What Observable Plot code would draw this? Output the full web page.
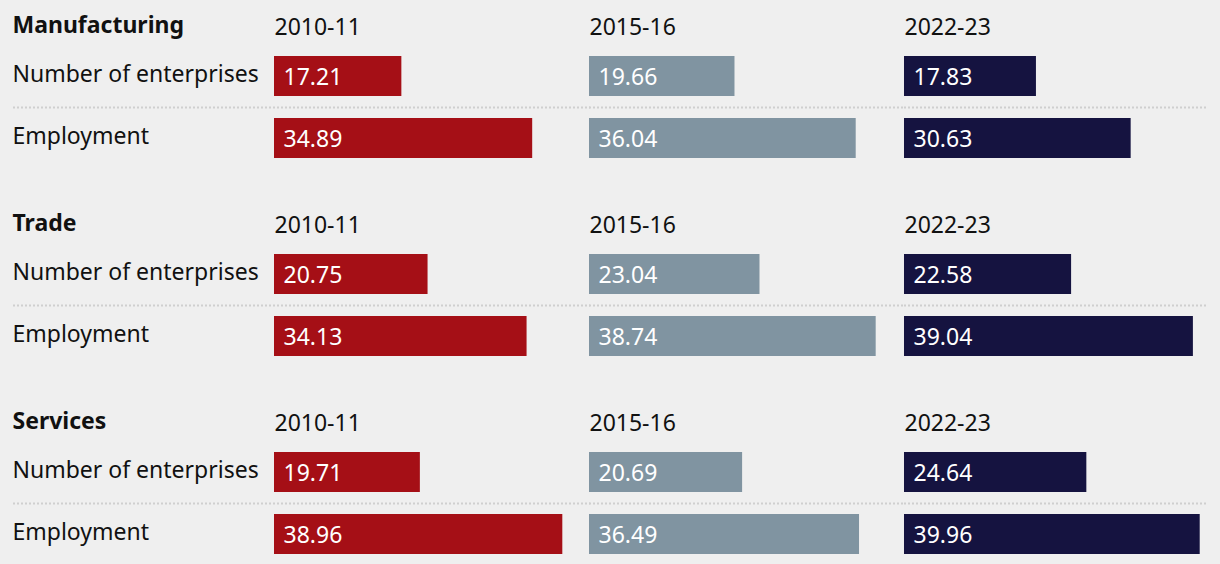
<!DOCTYPE html>
<html>
<head>
<meta charset="utf-8">
<script src="https://cdn.jsdelivr.net/npm/d3@7"></script>
<script src="https://cdn.jsdelivr.net/npm/@observablehq/plot@0.6"></script>
<style>
  html, body { margin: 0; padding: 0; background: #efefef; }
  #chart { width: 1220px; height: 564px; }
  svg { display: block; }
</style>
</head>
<body>
<div id="chart"></div>
<script>
const sectors = ["Manufacturing", "Trade", "Services"];
const periods = ["2010-11", "2015-16", "2022-23"];
const rows = ["Number of enterprises", "Employment"];
const enterprises = {
  Manufacturing: [17.21, 19.66, 17.83],
  Trade: [20.75, 23.04, 22.58],
  Services: [19.71, 20.69, 24.64]
};
const employment = {
  Manufacturing: [34.89, 36.04, 30.63],
  Trade: [34.13, 38.74, 39.04],
  Services: [38.96, 36.49, 39.96]
};
const colors = ["#a50f16", "#8094a1", "#151340"];

const data = [];
for (const s of sectors) {
  periods.forEach((p, i) => {
    data.push({sector: s, period: p, row: rows[0], value: enterprises[s][i]});
    data.push({sector: s, period: p, row: rows[1], value: employment[s][i]});
  });
}
const headers = sectors.flatMap(s => periods.map(p => ({sector: s, period: p})));
const firstCol = data.filter(d => d.period === periods[0]);
const seps = data.filter(d => d.row === rows[1]);

const W = 1220, H = 564, ML = 274, MR = 20, MT = 56, MB = 10;
const LABEL_X = 12;
const FONT = "'Noto Sans', sans-serif";
const FS = 23;

const plot = Plot.plot({
  width: W, height: H,
  marginLeft: ML, marginRight: MR, marginTop: MT, marginBottom: MB,
  style: {background: "transparent", fontFamily: FONT, fontSize: FS + "px", color: "#111"},
  x: {domain: [0, 40], axis: null},
  y: {domain: rows, axis: null, paddingInner: 0.355, paddingOuter: 0},
  fx: {domain: periods, axis: null, paddingInner: 0.0603, paddingOuter: 0, round: false},
  fy: {domain: sectors, axis: null, paddingInner: 0.485, paddingOuter: 0},
  color: {domain: periods, range: colors},
  marks: [
    Plot.ruleY(seps.filter(d => d.period === periods[0]), {
      y: "row", fx: "period", fy: "sector", dy: -31,
      stroke: "#cfcfcf", strokeWidth: 2, strokeDasharray: "2,2",
      insetLeft: LABEL_X + 1 - ML, insetRight: -20
    }),
    Plot.ruleY(seps.filter(d => d.period === periods[1]), {
      y: "row", fx: "period", fy: "sector", dy: -31,
      stroke: "#cfcfcf", strokeWidth: 2, strokeDasharray: "2,2",
      insetRight: -20
    }),
    Plot.ruleY(seps.filter(d => d.period === periods[2]), {
      y: "row", fx: "period", fy: "sector", dy: -31,
      stroke: "#cfcfcf", strokeWidth: 2, strokeDasharray: "2,2",
      insetRight: -8
    }),
    Plot.barX(data, {x: "value", y: "row", fx: "period", fy: "sector", fill: "period"}),
    Plot.text(data, {
      x: 0, y: "row", fx: "period", fy: "sector", text: d => d.value.toFixed(2),
      textAnchor: "start", dx: 9, dy: 1, fill: "white", fontSize: FS
    }),
    Plot.text(firstCol, {
      y: "row", fx: "period", fy: "sector", text: "row", frameAnchor: "left",
      textAnchor: "start", dx: LABEL_X - ML, dy: -2, fill: "#111", fontSize: FS
    }),
    Plot.text(headers, {
      fx: "period", fy: "sector", text: "period", frameAnchor: "top-left",
      textAnchor: "start", lineAnchor: "middle", dy: -29, fill: "#111", fontSize: FS
    }),
    Plot.text(headers.filter(d => d.period === periods[0]), {
      fx: "period", fy: "sector", text: "sector", frameAnchor: "top-left",
      textAnchor: "start", lineAnchor: "middle", dx: LABEL_X - ML, dy: -31,
      fill: "#111", fontWeight: "bold", fontSize: FS
    })
  ]
});
document.getElementById("chart").appendChild(plot);
</script>
</body>
</html>
